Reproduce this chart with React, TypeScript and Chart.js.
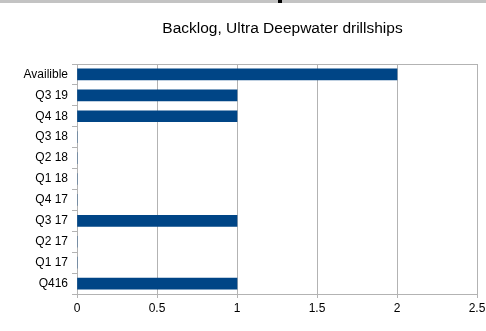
import React, { useEffect, useRef } from "react";
import { Chart, registerables } from "chart.js";

Chart.register(...registerables);

const titleText = "Backlog, Ultra Deepwater drillships";
const categories = ["Availible", "Q3 19", "Q4 18", "Q3 18", "Q2 18", "Q1 18", "Q4 17", "Q3 17", "Q2 17", "Q1 17", "Q416"];
const backlogValues = [2, 1, 1, 0, 0, 0, 0, 1, 0, 0, 1];
const xTickMax = 2.5;
const xTickStep = 0.5;

const FONT = "'Liberation Sans', Arial, sans-serif";

export default function App() {
  const canvasRef = useRef<HTMLCanvasElement | null>(null);

  useEffect(() => {
    if (!canvasRef.current) return;
    const borderPlugin = {
      id: "plotBorder",
      afterDraw(chart: any) {
        const { ctx, chartArea } = chart;
        ctx.save();
        ctx.strokeStyle = "#b3b3b3";
        ctx.lineWidth = 1;
        ctx.beginPath();
        ctx.moveTo(chartArea.left, chartArea.top + 0.5);
        ctx.lineTo(chartArea.right, chartArea.top + 0.5);
        ctx.stroke();
        ctx.fillStyle = "#000000";
        ctx.font = `15.5px ${FONT}`;
        ctx.textAlign = "center";
        ctx.textBaseline = "middle";
        ctx.fillText(titleText, 282.5, 29);
        ctx.restore();
      },
    };
    const chart = new Chart(canvasRef.current, {
      type: "bar",
      data: {
        labels: categories,
        datasets: [
          {
            data: backlogValues,
            backgroundColor: "#004586",
            borderWidth: 0,
            barThickness: 11,
          },
        ],
      },
      options: {
        indexAxis: "y",
        animation: false,
        responsive: false,
        maintainAspectRatio: false,
        layout: { padding: { top: 64, right: 9, left: 0, bottom: 0 } },
        plugins: {
          legend: { display: false },
          title: { display: false },
          tooltip: { enabled: false },
        },
        scales: {
          x: {
            min: 0,
            max: xTickMax,
            ticks: {
              stepSize: xTickStep,
              color: "#000000",
              font: { family: FONT, size: 12 },
              padding: 3,
              maxRotation: 0,
              callback: (v: any) => String(Number(v)),
            },
            grid: {
              color: "#b3b3b3",
              tickLength: 4,
              drawTicks: true,
            },
            border: { color: "#b3b3b3" },
            afterFit(scale: any) {
              scale.height = 37;
              scale.paddingRight = 0;
            },
          },
          y: {
            ticks: {
              color: "#000000",
              font: { family: FONT, size: 12 },
              padding: 4,
            },
            grid: {
              color: "#b3b3b3",
              drawOnChartArea: false,
              drawTicks: true,
              tickLength: 5,
              offset: true,
            },
            border: { color: "#b3b3b3" },
            afterFit(scale: any) {
              scale.width = 77;
            },
          },
        },
      },
      plugins: [borderPlugin],
    });
    return () => chart.destroy();
  }, []);

  return (
    <div style={{ position: "absolute", left: 0, top: 0, width: 486, height: 331, background: "#ffffff" }}>
      <div style={{ position: "absolute", left: 0, top: 0, width: 486, height: 3, background: "#c3c3c3" }} />
      <div style={{ position: "absolute", left: 278, top: 0, width: 4, height: 3, background: "#000000" }} />
      <canvas ref={canvasRef} width={486} height={331} style={{ position: "absolute", left: 0, top: 0, width: 486, height: 331 }} />
    </div>
  );
}
